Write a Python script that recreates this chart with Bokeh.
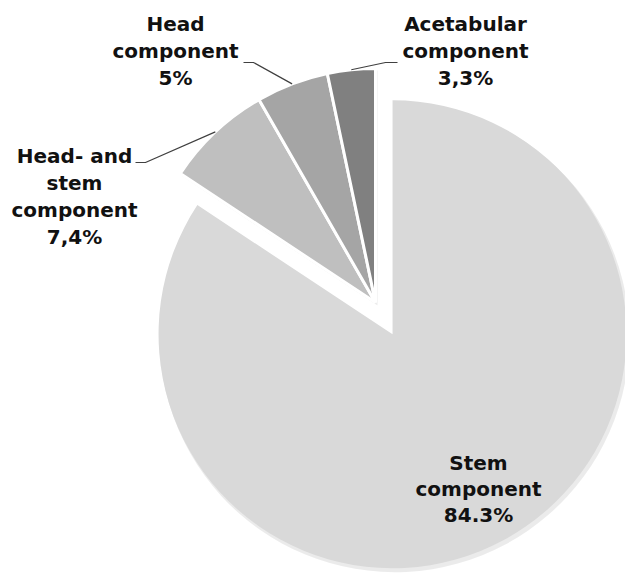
import math
from bokeh.plotting import figure
from bokeh.models import Range1d
from bokeh.core.properties import value
from bokeh.embed import file_html
from bokeh.resources import INLINE

# ---- data ----
categories = ["Stem component", "Head- and stem component", "Head component", "Acetabular component"]
percent_values = [84.3, 7.4, 5.0, 3.3]
percent_labels = ["84.3%", "7,4%", "5%", "3,3%"]
name_lines = [["Stem", "component"],
              ["Head- and", "stem", "component"],
              ["Head", "component"],
              ["Acetabular", "component"]]

# ---- style / layout ----
slice_colors = ["#d9d9d9", "#bfbfbf", "#a5a5a5", "#808080"]
W, H = 625, 578
CX, CY = 375.0, -302.0          # pie centre (data units = page pixels, y negated)
R = 234.0
EXPLODE = [36, 0, 0, 0]
LABEL_POS = [(478, 462), (74, 155), (175, 23), (465, 23)]   # centre of first text line
LINE_STEP = [26, 27, 27, 27]
LEADER = [None, [(145, 162), (135, 162)], [(253, 62), (243, 62)], [(385, 62), (397, 62)]]

p = figure(width=W, height=H, x_range=Range1d(0, W), y_range=Range1d(-H, 0),
           output_backend="svg", toolbar_location=None, min_border=0,
           x_axis_type=None, y_axis_type=None, outline_line_color=None,
           background_fill_color="white", border_fill_color="white")
p.xgrid.grid_line_color = None
p.ygrid.grid_line_color = None

total = sum(percent_values)
cum = 0.0
slices = []
for i, v in enumerate(percent_values):
    t1 = cum / total * 360.0
    t2 = (cum + v) / total * 360.0
    cum += v
    mid = math.radians((t1 + t2) / 2)
    cx = CX + EXPLODE[i] * math.sin(mid)
    cy = CY + EXPLODE[i] * math.cos(mid)
    start = math.radians(90 - t2)
    end = math.radians(90 - t1)
    slices.append((cx, cy, start, end, mid))

# soft shadows
for (cx, cy, s, e, m) in slices:
    p.wedge(x=cx + 2, y=cy - 3, radius=R + 1, start_angle=s, end_angle=e,
            fill_color="#000000", fill_alpha=0.08, line_color=None)

for i, (cx, cy, s, e, m) in enumerate(slices):
    p.wedge(x=cx, y=cy, radius=R, start_angle=s, end_angle=e,
            fill_color=slice_colors[i], line_color="white" if i > 0 else None,
            line_width=3)

# leader lines
for i, (cx, cy, s, e, m) in enumerate(slices):
    if LEADER[i] is None:
        continue
    ax = cx + R * math.sin(m)
    ay = cy + R * math.cos(m)
    xs = [ax] + [pt[0] for pt in LEADER[i]]
    ys = [ay] + [-pt[1] for pt in LEADER[i]]
    p.line(xs, ys, line_color="#404040", line_width=1.2)

# labels
tx, ty, tt = [], [], []
for i in range(len(categories)):
    lines = name_lines[i] + [percent_labels[i]]
    x0, y0 = LABEL_POS[i]
    for k, ln in enumerate(lines):
        tx.append(x0)
        ty.append(-(y0 + k * LINE_STEP[i]))
        tt.append(ln)
p.text(x=tx, y=ty, text=tt, text_font=value("DejaVu Sans"), text_font_style="bold",
       text_font_size="20px", text_align="center", text_baseline="middle",
       text_color="#111111")

open("out.html", "w").write(file_html(p, INLINE))
